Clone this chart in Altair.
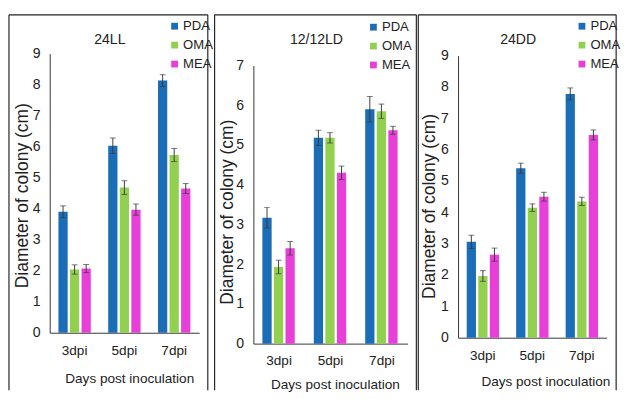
import altair as alt
import pandas as pd

days = ["3dpi", "5dpi", "7dpi"]
media = ["PDA", "OMA", "MEA"]
colors = ["#1b6db8", "#92d050", "#e83fd8"]
titles = ["24LL", "12/12LD", "24DD"]

# 24LL
ll_pda = [3.90, 6.03, 8.13]
ll_oma = [2.04, 4.68, 5.73]
ll_mea = [2.07, 3.97, 4.65]
ll_pda_err = [0.19, 0.25, 0.19]
ll_oma_err = [0.15, 0.22, 0.21]
ll_mea_err = [0.13, 0.18, 0.16]

# 12/12LD
ld_pda = [3.17, 5.18, 5.90]
ld_oma = [1.93, 5.18, 5.85]
ld_mea = [2.40, 4.30, 5.37]
ld_pda_err = [0.26, 0.19, 0.32]
ld_oma_err = [0.17, 0.13, 0.18]
ld_mea_err = [0.17, 0.17, 0.10]

# 24DD
dd_pda = [3.06, 5.41, 7.78]
dd_oma = [1.97, 4.15, 4.35]
dd_mea = [2.65, 4.50, 6.47]
dd_pda_err = [0.21, 0.16, 0.19]
dd_oma_err = [0.17, 0.12, 0.13]
dd_mea_err = [0.21, 0.14, 0.16]

y_max = [9, 7, 9]

FONT = "Liberation Sans"
H = 300
FRAME_TOP = -35
FRAME_BOTTOM = 352

layout = [
    dict(width=154, yr=[292.8, 5], fl=-42, fr=9, lx=122, ly=-30, tx=62, xtx=82, xty=47, ytx=-28, yty=151),
    dict(width=159, yr=[304, 17.3], fl=-40, fr=9, lx=117, ly=-29, tx=65, xtx=84, xty=42, ytx=-27, yty=168),
    dict(width=153, yr=[297.9, 7.1], fl=-41, fr=10, lx=121, ly=-30, tx=62, xtx=90, xty=45, ytx=-29, yty=162),
]


def panel(title, means, errs, ymax, L):
    rows = []
    for m, vals, es in zip(media, means, errs):
        for d, v, e in zip(days, vals, es):
            rows.append(dict(day=d, medium=m, value=v, lo=v - e, hi=v + e))
    df = pd.DataFrame(rows)
    w = L["width"]
    x = alt.X(
        "day:N",
        sort=days,
        scale=alt.Scale(paddingInner=0.35, paddingOuter=0.175),
        axis=alt.Axis(
            title="Days post inoculation",
            labelAngle=0,
            ticks=False,
            labelPadding=11,
            labelFontSize=14,
            labelFont=FONT,
            labelColor="#222",
            titleFont=FONT,
            titleFontSize=14,
            titleFontWeight="normal",
            titleColor="#222",
            titleY=L["xty"],
            titleX=L["xtx"],
            titleBaseline="middle",
            titleAlign="center",
            domainColor="#333",
            offset=L["yr"][0] - H,
        ),
    )
    xo = alt.XOffset("medium:N", sort=media, scale=alt.Scale(paddingInner=0.2, paddingOuter=0))
    yscale = alt.Scale(domain=[0, ymax], range=L["yr"], nice=False, zero=True)
    yaxis = alt.Axis(
        title="Diameter of colony (cm)",
        values=list(range(ymax + 1)),
        grid=False,
        ticks=False,
        labelPadding=10,
        labelFontSize=14.5,
        labelFont=FONT,
        labelColor="#222",
        titleFont=FONT,
        titleFontSize=18,
        titleFontWeight="normal",
        titleColor="#222",
        titleX=L["ytx"],
        titleY=L["yty"],
        titleAlign="center",
        titleBaseline="middle",
        domainColor="#333",
    )
    color = alt.Color(
        "medium:N",
        sort=media,
        scale=alt.Scale(domain=media, range=colors),
        legend=alt.Legend(
            orient="none",
            legendX=L["lx"],
            legendY=L["ly"],
            title=None,
            symbolType="square",
            symbolSize=49,
            symbolStrokeWidth=0,
            labelFontSize=13.5,
            labelFont=FONT,
            labelColor="#222",
            labelOffset=2,
            rowPadding=4.5,
            padding=0,
        ),
    )
    base = alt.Chart(df)
    bars = base.mark_bar().encode(
        x=x, xOffset=xo, y=alt.Y("value:Q", scale=yscale, axis=yaxis), color=color
    )
    rule = base.mark_rule(color="#3a3a3a", strokeWidth=1).encode(
        x=x, xOffset=xo, y=alt.Y("lo:Q", scale=yscale, axis=yaxis), y2="hi:Q"
    )
    tick_lo = base.mark_tick(color="#3a3a3a", thickness=1, size=6).encode(
        x=x, xOffset=xo, y=alt.Y("lo:Q", scale=yscale, axis=yaxis)
    )
    tick_hi = base.mark_tick(color="#3a3a3a", thickness=1, size=6).encode(
        x=x, xOffset=xo, y=alt.Y("hi:Q", scale=yscale, axis=yaxis)
    )
    fdf = pd.DataFrame({"f": [0]})
    fstyle = dict(color="#222", strokeWidth=1.2)
    f_left = alt.Chart(fdf).mark_rule(**fstyle).encode(
        x=alt.value(L["fl"]), y=alt.value(FRAME_TOP), y2=alt.value(FRAME_BOTTOM)
    )
    f_right = alt.Chart(fdf).mark_rule(**fstyle).encode(
        x=alt.value(w + L["fr"]), y=alt.value(FRAME_TOP), y2=alt.value(FRAME_BOTTOM)
    )
    f_top = alt.Chart(fdf).mark_rule(**fstyle).encode(
        x=alt.value(L["fl"]), x2=alt.value(w + L["fr"]), y=alt.value(FRAME_TOP)
    )
    ttl = alt.Chart(pd.DataFrame({"t": [title]})).mark_text(
        font=FONT, fontSize=14.5, color="#222", baseline="middle", align="center"
    ).encode(text="t:N", x=alt.value(L["tx"]), y=alt.value(-9))
    return alt.layer(f_left, f_right, f_top, bars, rule, tick_lo, tick_hi, ttl).properties(
        width=w, height=H
    )


p1 = panel(titles[0], [ll_pda, ll_oma, ll_mea], [ll_pda_err, ll_oma_err, ll_mea_err], y_max[0], layout[0])
p2 = panel(titles[1], [ld_pda, ld_oma, ld_mea], [ld_pda_err, ld_oma_err, ld_mea_err], y_max[1], layout[1])
p3 = panel(titles[2], [dd_pda, dd_oma, dd_mea], [dd_pda_err, dd_oma_err, dd_mea_err], y_max[2], layout[2])

chart = (
    alt.hconcat(p1, p2, p3, spacing=0)
    .resolve_legend(color="independent")
    .properties(padding={"left": 0, "top": 0, "right": 0, "bottom": 0}, background="white")
    .configure_view(strokeWidth=0)
)

chart.save("out.html", embed_options={"renderer": "svg", "actions": False})
